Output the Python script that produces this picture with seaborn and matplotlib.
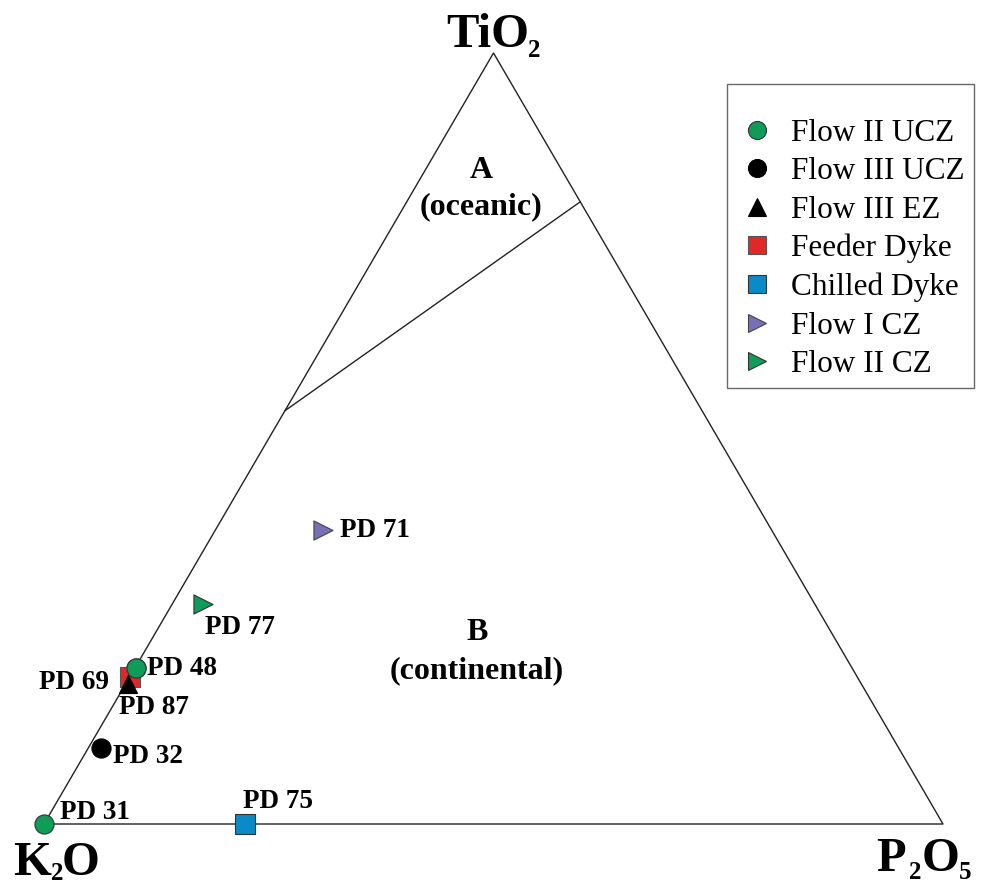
import numpy as np
import pandas as pd
import matplotlib
matplotlib.use("Agg")
import matplotlib.pyplot as plt
import seaborn as sns

sns.set_theme(style="white")
plt.rcParams['font.family'] = ['Liberation Serif', 'DejaVu Serif']
plt.rcParams['text.color'] = 'black'
plt.rcParams['legend.labelcolor'] = 'black'

# Sample compositions (normalised wt%)
samples = ["PD 31", "PD 32", "PD 69", "PD 87", "PD 48", "PD 75", "PD 71", "PD 77"]
groups = ["Flow II UCZ", "Flow III UCZ", "Feeder Dyke", "Flow III EZ",
          "Flow II UCZ", "Chilled Dyke", "Flow I CZ", "Flow II CZ"]
k2o = [100.0, 88.7, 80.9, 81.6, 79.7, 77.6, 49.9, 68.1]
tio2 = [0.0, 9.9, 19.1, 18.2, 20.2, 0.0, 38.1, 28.5]
p2o5 = [0.0, 1.4, 0.0, 0.2, 0.1, 22.4, 12.0, 3.4]

# Oceanic / continental boundary (K2O, TiO2, P2O5)
boundary_k2o = [46.4, 0.0]
boundary_tio2 = [53.6, 80.7]
boundary_p2o5 = [0.0, 19.3]

legend_order = ["Flow II UCZ", "Flow III UCZ", "Flow III EZ", "Feeder Dyke",
                "Chilled Dyke", "Flow I CZ", "Flow II CZ"]
palette = {"Flow II UCZ": "#0f9b58", "Flow III UCZ": "#000000",
           "Flow III EZ": "#000000", "Feeder Dyke": "#e0282a",
           "Chilled Dyke": "#0a8ac6", "Flow I CZ": "#7870b4",
           "Flow II CZ": "#0f9b58"}
markers = {"Flow II UCZ": "o", "Flow III UCZ": "o", "Flow III EZ": "^",
           "Feeder Dyke": "s", "Chilled Dyke": "s", "Flow I CZ": ">",
           "Flow II CZ": ">"}
edges = {"Flow II UCZ": "#333333", "Flow III UCZ": "#000000",
         "Flow III EZ": "#000000", "Feeder Dyke": "#555555",
         "Chilled Dyke": "#333333", "Flow I CZ": "#444444",
         "Flow II CZ": "#333333"}

H = np.sqrt(3) / 2


def tern(k, t, p):
    k, t, p = (np.asarray(v, dtype=float) for v in (k, t, p))
    s = k + t + p
    t, p = t / s, p / s
    return p + t / 2, t * H


x, y = tern(k2o, tio2, p2o5)
df = pd.DataFrame({"sample": samples, "group": groups, "x": x, "y": y})

fig = plt.figure(figsize=(9.81, 8.85), dpi=100)
ax = fig.add_axes([0, 0, 1, 1])
ax.set_xlim(-44 / 899, (981 - 44) / 899)
ax.set_ylim(-61 / 771 * H, 824 / 771 * H)
ax.axis("off")

# Triangle outline and field boundary
tx, ty = tern([100, 0, 0, 100], [0, 100, 0, 0], [0, 0, 100, 0])
ax.plot(tx, ty, color="#222222", lw=1.0, zorder=1)
bx, by = tern(boundary_k2o, boundary_tio2, boundary_p2o5)
ax.plot(bx, by, color="#222222", lw=1.0, zorder=1)

sizes = {"o": 190, "s": 210, "^": 170, ">": 190}
for g in df["group"].unique():
    sub = df[df["group"] == g]
    sns.scatterplot(data=sub, x="x", y="y", ax=ax, color=palette[g],
                    marker=markers[g], s=sizes[markers[g]],
                    edgecolor=edges[g], linewidth=0.8, zorder=3, legend=False)

# Redraw PD 48 above the overlapping PD 69 / PD 87 markers
top = df[df["sample"] == "PD 48"]
sns.scatterplot(data=top, x="x", y="y", ax=ax, color=palette["Flow II UCZ"],
                marker="o", s=190, edgecolor="#333333", linewidth=0.8,
                zorder=4, legend=False)

# Sample labels (offsets in points)
offsets = {"PD 71": (12, 0, "left"), "PD 77": (1.5, -17, "left"),
           "PD 48": (8, -0.5, "left"), "PD 69": (-15, -4, "right"),
           "PD 87": (-6, -17, "left"), "PD 32": (8.5, -6.5, "left"),
           "PD 31": (11.5, 8.5, "left"), "PD 75": (-2, 16.5, "left")}
for s_, xi, yi in zip(samples, x, y):
    dx, dy, ha = offsets[s_]
    ax.annotate(s_, (xi, yi), xytext=(dx, dy), textcoords="offset points",
                ha=ha, va="center", fontsize=19.5, fontweight="bold",
                color="black", zorder=5)


def fig_text(px, py, s, **kw):
    ax.text(px / 981, 1 - py / 885, s, transform=ax.transAxes, **kw)


# Field labels
fig_text(481, 170, "A", ha="center", va="center", fontsize=23, fontweight="bold")
fig_text(481, 207, "(oceanic)", ha="center", va="center", fontsize=23, fontweight="bold")
fig_text(477, 633, "B", ha="center", va="center", fontsize=23, fontweight="bold")
fig_text(477, 671, "(continental)", ha="center", va="center", fontsize=23, fontweight="bold")

# Apex labels: main characters with small, lowered subscripts
apex_pieces = [
    ("TiO", 446, 47, 35), ("2", 528, 57, 18),
    ("K", 13, 875, 35), ("2", 51, 880, 18), ("O", 62, 875, 35),
    ("P", 876, 871, 35), ("2", 909, 879, 18), ("O", 922, 871, 35),
    ("5", 959, 879, 18),
]
for txt, px, py, fs in apex_pieces:
    fig_text(px, py, txt, ha="left", va="baseline", fontsize=fs, fontweight="bold")

# Legend
handles = [plt.Line2D([], [], linestyle="none", marker=markers[g], markersize=13,
                      markerfacecolor=palette[g], markeredgecolor=edges[g],
                      markeredgewidth=0.8) for g in legend_order]
leg = ax.legend(handles, legend_order, loc="upper left",
                bbox_to_anchor=(727 / 981, 1 - 84 / 885), title=" ",
                title_fontsize=12, fontsize=22.5, frameon=True, fancybox=False,
                edgecolor="#444444", labelspacing=0.30, handletextpad=0.4,
                handlelength=1.35, borderpad=0.3, borderaxespad=0)
leg.get_frame().set_linewidth(1.0)

fig.savefig("out.png", dpi=100)
